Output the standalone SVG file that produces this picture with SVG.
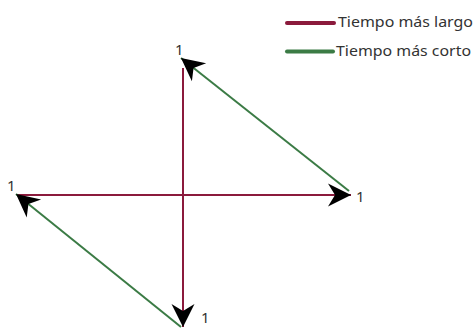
<svg xmlns="http://www.w3.org/2000/svg" width="475" height="328" viewBox="0 0 475 328">
  <style>
    .lbl { font-family: "Noto Sans", "Open Sans", "Liberation Sans", sans-serif; font-size: 14px; fill: #333333; }
    .num { font-family: "Noto Sans", "Open Sans", "Liberation Sans", sans-serif; font-size: 15px; fill: #333333; }
    .red { stroke: #8b1a3c; stroke-width: 2; fill: none; }
    .green { stroke: #3b7b45; stroke-width: 2; fill: none; }
    .legred { stroke: #8b1a3c; stroke-width: 4; stroke-linecap: round; }
    .leggreen { stroke: #3b7b45; stroke-width: 4; stroke-linecap: round; }
  </style>
  <defs>
    <marker id="head" markerUnits="userSpaceOnUse" markerWidth="28" markerHeight="28" viewBox="-25 -14 28 28" refX="0" refY="0" orient="auto">
      <path d="M0,0 L-23,-11.5 L-16,0 L-23,11.5 Z" fill="#000000"/>
    </marker>
  </defs>
  <rect width="475" height="328" fill="#ffffff"/>
  <g id="legend">
    <line class="legred" x1="287" y1="23" x2="334" y2="23"/>
    <text class="lbl" x="338" y="27" textLength="135" lengthAdjust="spacingAndGlyphs">Tiempo más largo</text>
    <line class="leggreen" x1="287" y1="51.5" x2="333" y2="51.5"/>
    <text class="lbl" x="336" y="56" textLength="135" lengthAdjust="spacingAndGlyphs">Tiempo más corto</text>
  </g>
  <g id="connectors">
    <line class="red" x1="183" y1="68" x2="183" y2="327" marker-end="url(#head)"/>
    <line class="red" x1="18" y1="195" x2="351" y2="195" marker-end="url(#head)"/>
    <line class="green" x1="349" y1="191" x2="181" y2="58" marker-end="url(#head)"/>
    <line class="green" x1="181" y1="327" x2="16" y2="194" marker-end="url(#head)"/>
  </g>
  <g id="node-top"><text class="num" x="175" y="55">1</text></g>
  <g id="node-left"><text class="num" x="7" y="191">1</text></g>
  <g id="node-right"><text class="num" x="356" y="202">1</text></g>
  <g id="node-bottom"><text class="num" x="201" y="323">1</text></g>
</svg>
